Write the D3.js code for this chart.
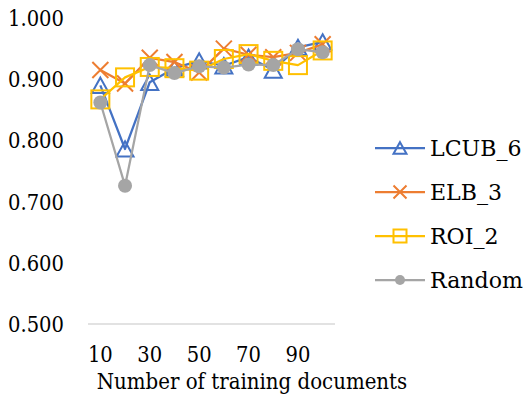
<!DOCTYPE html>
<html>
<head>
<meta charset="utf-8">
<script src="https://cdn.jsdelivr.net/npm/d3@7/dist/d3.min.js"></script>
<style>
  html, body { margin: 0; padding: 0; background: #fff; }
  svg { display: block; }
  svg text { font-family: "DejaVu Serif", "Liberation Serif", serif; font-size: 23px; fill: #000; }
</style>
</head>
<body>
<svg id="chart" width="527" height="410"></svg>
<script>
// Training-set sizes on the category axis
const docs = [10, 20, 30, 40, 50, 60, 70, 80, 90, 100];
const xTickLabels = [10, 30, 50, 70, 90];
const yTicks = [0.5, 0.6, 0.7, 0.8, 0.9, 1.0];

// Scores per method
const lcub6 = [0.890, 0.786, 0.895, 0.918, 0.930, 0.922, 0.936, 0.915, 0.952, 0.961];
const elb3 = [0.915, 0.893, 0.935, 0.928, 0.911, 0.950, 0.940, 0.936, 0.943, 0.957];
const roi2 = [0.867, 0.903, 0.920, 0.918, 0.914, 0.933, 0.941, 0.930, 0.923, 0.947];
const random = [0.862, 0.726, 0.923, 0.910, 0.921, 0.919, 0.924, 0.923, 0.949, 0.944];

const seriesNames = ["LCUB_6", "ELB_3", "ROI_2", "Random"];
const seriesColors = ["#4472C4", "#ED7D31", "#FFC000", "#A5A5A5"];
const seriesMarkers = ["triangle", "cross", "square", "circle"];
const seriesValues = [lcub6, elb3, roi2, random];

const svg = d3.select("#chart");

const x = d3.scaleBand().domain(docs).range([88, 335]);
const y = d3.scaleLinear().domain([0.5, 1.0]).range([324, 18]);
const cx = d => x(d) + x.bandwidth() / 2;

// narrow the wide serif face so words keep a Times-like width
function condense(sel, k) {
  sel.each(function () {
    const w = this.getComputedTextLength();
    d3.select(this).attr("textLength", w * k).attr("lengthAdjust", "spacingAndGlyphs");
  });
}

// y tick labels
svg.append("g").selectAll("text")
  .data(yTicks)
  .join("text")
  .attr("x", 64)
  .attr("y", d => y(d))
  .attr("dy", "0.35em")
  .attr("text-anchor", "end")
  .text(d => d3.format(".3f")(d))
  .call(condense, 0.85);

// category axis line
svg.append("line")
  .attr("x1", 88).attr("x2", 335)
  .attr("y1", y(0.5)).attr("y2", y(0.5))
  .attr("stroke", "#D9D9D9").attr("stroke-width", 1.5);

// category labels (every other one)
svg.append("g").selectAll("text")
  .data(xTickLabels)
  .join("text")
  .attr("x", d => cx(d))
  .attr("y", 362)
  .attr("text-anchor", "middle")
  .text(d => d)
  .call(condense, 0.85);

// axis title
svg.append("text")
  .attr("x", 252)
  .attr("y", 389)
  .attr("text-anchor", "middle")
  .text("Number of training documents")
  .call(condense, 0.86);

function drawMarker(g, type, color, px, py, s) {
  if (type === "triangle") {
    const h = s * 0.9, w = s;
    g.append("path")
      .attr("d", `M${px},${py - h / 2}L${px + w / 2},${py + h / 2}L${px - w / 2},${py + h / 2}Z`)
      .attr("fill", "none")
      .attr("stroke", color).attr("stroke-width", 2);
  } else if (type === "cross") {
    const r = s / 2;
    g.append("path")
      .attr("d", `M${px - r},${py - r}L${px + r},${py + r}M${px - r},${py + r}L${px + r},${py - r}`)
      .attr("stroke", color).attr("stroke-width", 2);
  } else if (type === "square") {
    g.append("rect")
      .attr("x", px - s / 2).attr("y", py - s / 2)
      .attr("width", s).attr("height", s)
      .attr("fill", "none")
      .attr("stroke", color).attr("stroke-width", 2);
  } else {
    g.append("circle")
      .attr("cx", px).attr("cy", py).attr("r", s / 2)
      .attr("fill", color);
  }
}

const markerSize = [17, 16, 18, 14];
const legendMarkerSize = [13, 13, 13, 10];

const line = d3.line().x(d => cx(d.k)).y(d => y(d.v));

seriesValues.forEach((vals, i) => {
  const g = svg.append("g");
  const pts = docs.map((k, j) => ({ k, v: vals[j] }));
  g.append("path")
    .attr("d", line(pts))
    .attr("fill", "none")
    .attr("stroke", seriesColors[i])
    .attr("stroke-width", 2.25)
    .attr("stroke-linejoin", "round");
  pts.forEach(p => drawMarker(g, seriesMarkers[i], seriesColors[i], cx(p.k), y(p.v), markerSize[i]));
});

// legend
const legendY = [148, 192, 236, 280];
seriesNames.forEach((name, i) => {
  const g = svg.append("g");
  const ly = legendY[i];
  g.append("line")
    .attr("x1", 375).attr("x2", 425)
    .attr("y1", ly).attr("y2", ly)
    .attr("stroke", seriesColors[i]).attr("stroke-width", 2.25);
  drawMarker(g, seriesMarkers[i], seriesColors[i], 400, ly, legendMarkerSize[i]);
  g.append("text")
    .attr("x", 430).attr("y", ly)
    .attr("dy", "0.35em")
    .text(name)
    .call(condense, 0.96);
});
</script>
</body>
</html>
